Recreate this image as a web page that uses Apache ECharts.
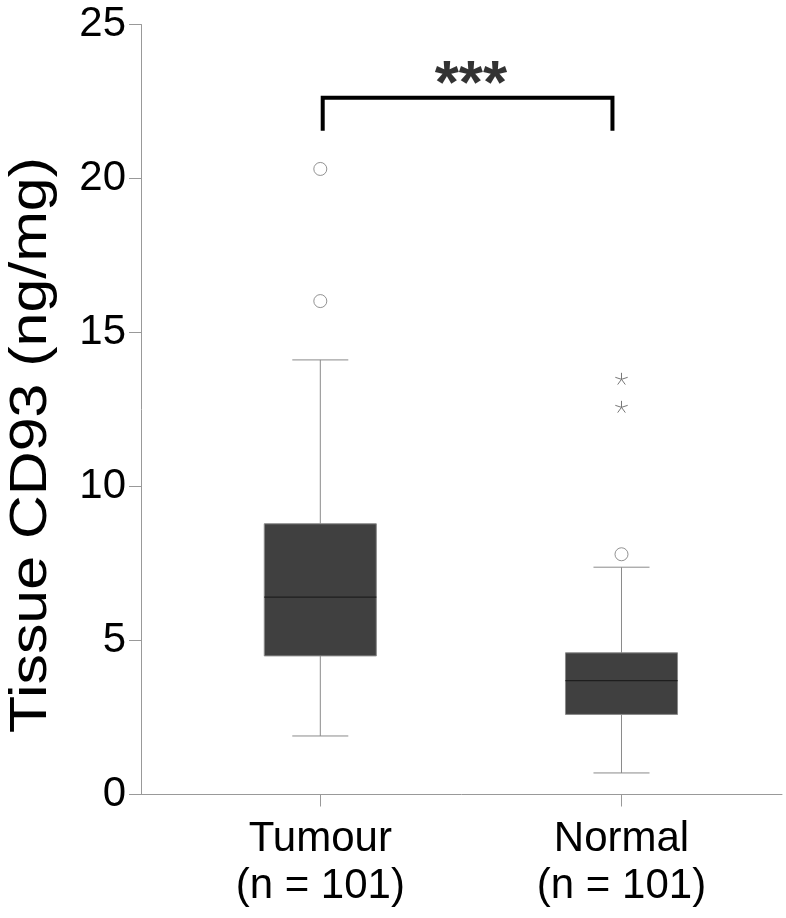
<!DOCTYPE html>
<html>
<head>
<meta charset="utf-8">
<script src="https://cdn.jsdelivr.net/npm/echarts@6/dist/echarts.min.js"></script>
<style>html,body{margin:0;padding:0;background:#fff}#c{width:786px;height:918px}</style>
</head>
<body>
<div id="c"></div>
<script>
// ---- data ----
var categories = ['Tumour\n(n = 101)', 'Normal\n(n = 101)'];
var categoryPos = [1, 2];
// [position, lower whisker, Q1, median, Q3, upper whisker]
var boxStats = [
  [1, 1.90, 4.50, 6.41, 8.79, 14.11],
  [2, 0.70, 2.60, 3.70, 4.60, 7.38]
];
var circleOutliers = [[1, 20.31], [1, 16.02], [2, 7.80]];
var starOutliers = [[2, 13.48], [2, 12.57]];
var bracket = [[1.008, 21.55], [1.008, 22.62], [1.970, 22.62], [1.970, 21.55]];
var sigLabel = [[1.5, 23.0, '***']];
var yTicks = [0, 5, 10, 15, 20, 25];
var yTitle = 'Tissue CD93 (ng/mg)';

var FONT = '"Liberation Sans", Arial, Helvetica, sans-serif';
var BOX_HALF = 0.186, CAP_HALF = 0.093;

var chart = echarts.init(document.getElementById('c'), null, {renderer: 'canvas'});
chart.setOption({
  animation: false,
  backgroundColor: '#fff',
  grid: {left: 141, right: 4, top: 24.5, bottom: 123.5, containLabel: false, outerBoundsMode: 'none'},
  graphic: [{
    type: 'text', x: 32, y: 445, rotation: Math.PI / 2, scaleX: 1.17, scaleY: 1,
    style: {text: yTitle, fill: '#000', font: '52px ' + FONT, align: 'center', verticalAlign: 'middle'}
  }],
  xAxis: {
    type: 'value', min: 0.4047, max: 2.5329,
    axisLine: {show: true, lineStyle: {color: '#999', width: 1}},
    axisTick: {show: true, customValues: categoryPos, length: 12, inside: false, lineStyle: {color: '#999'}},
    axisLabel: {
      show: true, customValues: categoryPos, margin: 21,
      formatter: function (v) { return categories[Math.round(v) - 1]; },
      fontSize: 42, lineHeight: 47, color: '#000', fontFamily: FONT
    },
    splitLine: {show: false}
  },
  yAxis: {
    type: 'value', min: 0, max: 25, interval: 5,
    axisLine: {show: true, lineStyle: {color: '#999', width: 1}},
    axisTick: {show: true, length: 12, lineStyle: {color: '#999'}},
    axisLabel: {margin: 15, fontSize: 42, color: '#000', fontFamily: FONT,
      formatter: function (v) { return yTicks.indexOf(v) >= 0 ? String(v) : ''; }},
    splitLine: {show: false}
  },
  series: [
    {
      type: 'custom',
      data: boxStats,
      renderItem: function (params, api) {
        var x = api.value(0);
        var lo = api.coord([x, api.value(1)]);
        var q1 = api.coord([x, api.value(2)]);
        var md = api.coord([x, api.value(3)]);
        var q3 = api.coord([x, api.value(4)]);
        var hi = api.coord([x, api.value(5)]);
        var bl = api.coord([x - BOX_HALF, 0])[0], br = api.coord([x + BOX_HALF, 0])[0];
        var cl = api.coord([x - CAP_HALF, 0])[0], cr = api.coord([x + CAP_HALF, 0])[0];
        var cx = lo[0];
        var ws = {stroke: '#8a8a8a', lineWidth: 1};
        return {type: 'group', children: [
          {type: 'line', shape: {x1: cx, y1: hi[1], x2: cx, y2: q3[1]}, style: ws},
          {type: 'line', shape: {x1: cx, y1: q1[1], x2: cx, y2: lo[1]}, style: ws},
          {type: 'line', shape: {x1: cl, y1: hi[1], x2: cr, y2: hi[1]}, style: ws},
          {type: 'line', shape: {x1: cl, y1: lo[1], x2: cr, y2: lo[1]}, style: ws},
          {type: 'rect', shape: {x: bl, y: q3[1], width: br - bl, height: q1[1] - q3[1]},
            style: {fill: '#404040', stroke: '#8a8a8a', lineWidth: 1}},
          {type: 'line', shape: {x1: bl, y1: md[1], x2: br, y2: md[1]}, style: {stroke: '#1e1e1e', lineWidth: 1.2}}
        ]};
      },
      z: 2
    },
    {
      type: 'scatter', data: circleOutliers, symbol: 'circle', symbolSize: 13,
      itemStyle: {color: '#fff', borderColor: '#777', borderWidth: 1}, z: 3
    },
    {
      type: 'custom', data: starOutliers,
      renderItem: function (params, api) {
        var p = api.coord([api.value(0), api.value(1)]);
        var r = 6.5, kids = [];
        for (var i = 0; i < 5; i++) {
          var a = -Math.PI / 2 + i * 2 * Math.PI / 5;
          kids.push({type: 'line', shape: {x1: p[0], y1: p[1], x2: p[0] + r * Math.cos(a), y2: p[1] + r * Math.sin(a)},
            style: {stroke: '#777', lineWidth: 1}});
        }
        return {type: 'group', children: kids};
      },
      z: 3
    },
    {
      type: 'line', data: bracket, symbol: 'none', silent: true,
      lineStyle: {color: '#000', width: 4, cap: 'butt', join: 'miter'}, z: 4
    },
    {
      type: 'scatter', data: sigLabel, symbolSize: 0, silent: true,
      label: {show: true, position: 'inside', formatter: function (p) { return p.data[2]; },
        fontSize: 62, fontWeight: 'bold', color: '#000', fontFamily: FONT}, z: 4
    }
  ]
});
</script>
</body>
</html>
